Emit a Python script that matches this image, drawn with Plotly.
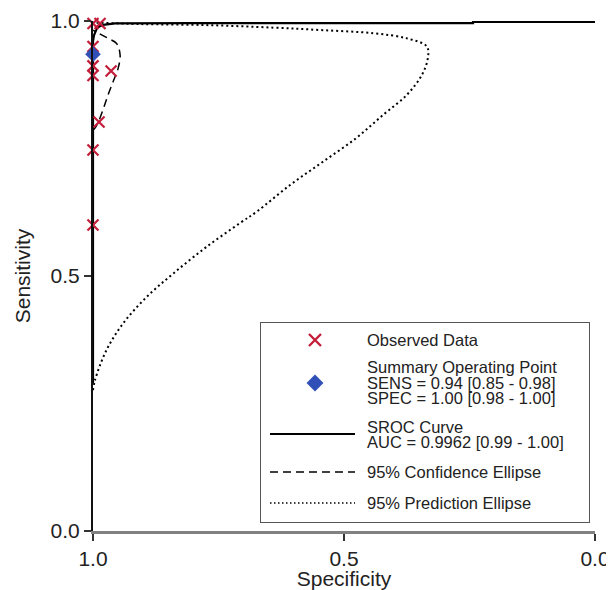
import plotly.graph_objects as go

# ---------------- data ----------------
# Observed study points (specificity, sensitivity)
obs_spec = [1.0, 0.986, 1.0, 1.0, 1.0, 0.964, 0.988, 1.0, 1.0]
obs_sens = [0.995, 0.995, 0.950, 0.912, 0.893, 0.902, 0.802, 0.747, 0.600]

# Summary operating point
sum_spec = [1.0]
sum_sens = [0.935]

# SROC curve
sroc_spec = [1.0, 1.0, 0.998, 0.996, 0.992, 0.986, 0.976, 0.956, 0.906, 0.80, 0.243, 0.243, 0.0]
sroc_sens = [0.29, 0.96, 0.972, 0.978, 0.986, 0.990, 0.993, 0.9955, 0.996, 0.996, 0.996, 0.998, 0.998]

# 95% confidence ellipse
ci_spec = [1.0, 0.996, 0.989, 0.979, 0.970, 0.960, 0.950, 0.946, 0.953, 0.970, 0.989, 1.0]
ci_sens = [0.786, 0.790, 0.803, 0.829, 0.855, 0.881, 0.907, 0.933, 0.956, 0.966, 0.976, 0.982]

# 95% prediction ellipse
pe_spec = [1.0, 0.996, 0.973, 0.940, 0.893, 0.840, 0.774, 0.707, 0.674, 0.608, 0.542, 0.475,
           0.422, 0.375, 0.345, 0.333, 0.335, 0.375, 0.442, 0.542, 0.641, 0.774, 0.906, 1.0]
pe_sens = [0.276, 0.296, 0.355, 0.407, 0.459, 0.505, 0.557, 0.604, 0.626, 0.678, 0.724, 0.771,
           0.816, 0.855, 0.894, 0.927, 0.950, 0.966, 0.976, 0.982, 0.987, 0.992, 0.994, 0.997]

tick_vals = [1.0, 0.5, 0.0]
tick_text = ["1.0", "0.5", "0.0"]

legend_lines = [
    ["Observed Data"],
    ["Summary Operating Point", "SENS = 0.94 [0.85 - 0.98]", "SPEC = 1.00 [0.98 - 1.00]"],
    ["SROC Curve", "AUC = 0.9962 [0.99 - 1.00]"],
    ["95% Confidence Ellipse"],
    ["95% Prediction Ellipse"],
]

# ---------------- style ----------------
RED = "#C41E3A"
BLUE = "#3050B8"
FONT = "Liberation Sans, Arial, sans-serif"
TXT = "#222222"
OFF = 8  # default page body margin
W, H = 614 - OFF, 590 - OFF
L, R, T, B = 93 - OFF, 19, 21 - OFF, 59

fig = go.Figure()

fig.add_trace(go.Scatter(x=pe_spec, y=pe_sens, mode="lines",
                         line=dict(color="black", width=2, dash="2px,3px", shape="spline"),
                         showlegend=False, hoverinfo="skip"))
fig.add_trace(go.Scatter(x=ci_spec, y=ci_sens, mode="lines",
                         line=dict(color="black", width=1.5, dash="8px,5px", shape="spline"),
                         showlegend=False, hoverinfo="skip"))
fig.add_trace(go.Scatter(x=sroc_spec, y=sroc_sens, mode="lines",
                         line=dict(color="black", width=2.2),
                         showlegend=False, hoverinfo="skip"))
fig.add_trace(go.Scatter(x=obs_spec, y=obs_sens, mode="markers", cliponaxis=False,
                         marker=dict(symbol="x-thin", size=11, line=dict(color=RED, width=2.2)),
                         showlegend=False))
fig.add_trace(go.Scatter(x=sum_spec, y=sum_sens, mode="markers", cliponaxis=False,
                         marker=dict(symbol="diamond", size=12, color=BLUE, line=dict(width=0)),
                         showlegend=False))

# ---------------- manual legend on overlay axes (screen-pixel-like coords) ----------------
lx0, lx1, ly0, ly1 = 260, 590, 322, 523
sample_x0, sample_x1, sym_x, text_x = 270, 355, 315, 365
fig.add_trace(go.Scatter(x=[sym_x], y=[340], xaxis="x2", yaxis="y2", mode="markers",
                         marker=dict(symbol="x-thin", size=12, line=dict(color=RED, width=2.4)),
                         showlegend=False, hoverinfo="skip"))
fig.add_trace(go.Scatter(x=[sym_x], y=[383], xaxis="x2", yaxis="y2", mode="markers",
                         marker=dict(symbol="diamond", size=13, color=BLUE),
                         showlegend=False, hoverinfo="skip"))
fig.add_trace(go.Scatter(x=[sample_x0, sample_x1], y=[434, 434], xaxis="x2", yaxis="y2", mode="lines",
                         line=dict(color="black", width=2.2), showlegend=False, hoverinfo="skip"))
fig.add_trace(go.Scatter(x=[sample_x0, sample_x1], y=[472, 472], xaxis="x2", yaxis="y2", mode="lines",
                         line=dict(color="black", width=1.5, dash="8px,5px"), showlegend=False, hoverinfo="skip"))
fig.add_trace(go.Scatter(x=[sample_x0, sample_x1], y=[503, 503], xaxis="x2", yaxis="y2", mode="lines",
                         line=dict(color="black", width=1.5, dash="1.5px,2.5px"), showlegend=False, hoverinfo="skip"))

text_y = [[340], [367, 383, 398], [427, 442], [472], [503]]
annotations = []
for lines, ys in zip(legend_lines, text_y):
    for t, yy in zip(lines, ys):
        annotations.append(dict(x=text_x, y=yy, xref="x2", yref="y2", text=t, showarrow=False,
                                xanchor="left", yanchor="middle",
                                font=dict(family=FONT, size=16.5, color=TXT)))

px2paper_x = lambda px: (px - OFF - L) / (W - L - R)
px2paper_y = lambda py: (H - B - (py - OFF)) / (H - T - B)

fig.update_layout(
    width=W, height=H,
    margin=dict(l=L, r=R, t=T, b=B, pad=0),
    paper_bgcolor="white", plot_bgcolor="white",
    font=dict(family=FONT, color=TXT),
    showlegend=False,
    xaxis=dict(range=[1, 0], tickvals=tick_vals, ticktext=tick_text, ticks="outside", ticklen=7,
               tickwidth=1.5, tickcolor="#333", showline=True, linecolor="#808080", linewidth=2.5,
               showgrid=False, zeroline=False, tickfont=dict(size=21, color=TXT), automargin=False,
               title=dict(text="Specificity", font=dict(size=21, color=TXT), standoff=0)),
    yaxis=dict(range=[0, 1], tickvals=tick_vals, ticktext=tick_text, ticks="outside", ticklen=7,
               tickwidth=1.5, tickcolor="#333", showline=True, linecolor="#111", linewidth=2,
               showgrid=False, zeroline=False, tickfont=dict(size=21, color=TXT), automargin=False,
               title=dict(text="Sensitivity", font=dict(size=21, color=TXT), standoff=14)),
    xaxis2=dict(domain=[px2paper_x(lx0), px2paper_x(lx1)], range=[lx0, lx1], anchor="y2",
                visible=False, fixedrange=True),
    yaxis2=dict(domain=[px2paper_y(ly1), px2paper_y(ly0)], range=[ly1, ly0], anchor="x2",
                visible=False, fixedrange=True),
    shapes=[dict(type="rect", xref="x2", yref="y2", x0=lx0, x1=lx1, y0=ly0, y1=ly1,
                 line=dict(color="#555", width=2), fillcolor="rgba(0,0,0,0)")],
    annotations=annotations,
)

fig.write_html("out.html")
